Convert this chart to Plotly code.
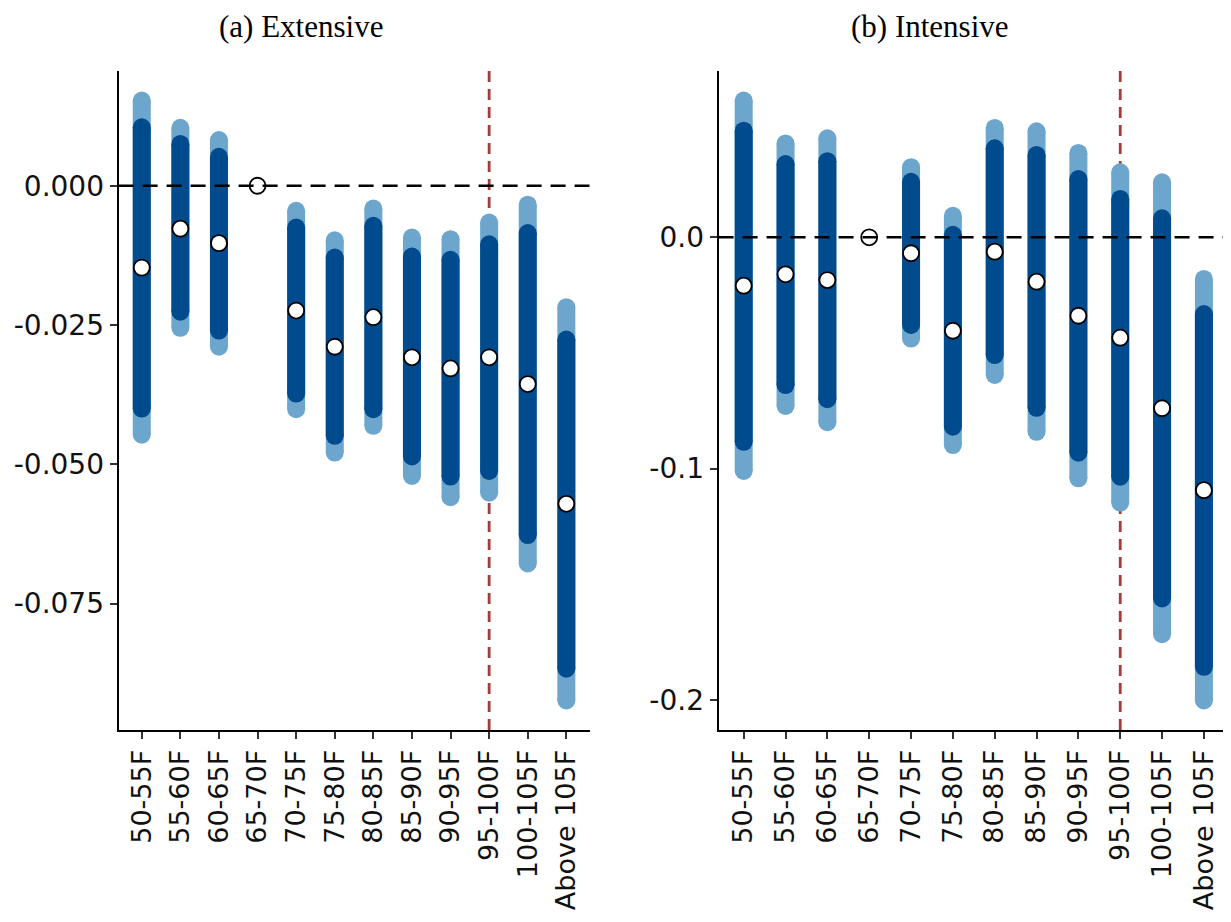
import plotly.graph_objects as go

categories = ["50-55F", "55-60F", "60-65F", "65-70F", "70-75F", "75-80F",
              "80-85F", "85-90F", "90-95F", "95-100F", "100-105F", "Above 105F"]

# (a) Extensive
ext_est = [-0.0147, -0.0077, -0.0103, 0.0, -0.0224, -0.0289, -0.0236, -0.0308, -0.0328, -0.0308, -0.0356, -0.0571]
ext_lo95 = [-0.0447, -0.0255, -0.0289, None, -0.0401, -0.0479, -0.0431, -0.0521, -0.0559, -0.0551, -0.0678, -0.0924]
ext_hi95 = [0.0153, 0.0104, 0.0082, None, -0.0045, -0.0098, -0.0041, -0.0093, -0.0096, -0.0066, -0.0034, -0.0218]
ext_lo90 = [-0.0400, -0.0226, -0.0260, None, -0.0373, -0.0449, -0.0401, -0.0486, -0.0522, -0.0512, -0.0627, -0.0867]
ext_hi90 = [0.0105, 0.0075, 0.0052, None, -0.0075, -0.0129, -0.0072, -0.0127, -0.0133, -0.0105, -0.0085, -0.0276]

# (b) Intensive
int_est = [-0.0209, -0.0160, -0.0185, 0.0, -0.0069, -0.0404, -0.0062, -0.0192, -0.0339, -0.0434, -0.0739, -0.1093]
int_lo95 = [-0.1010, -0.0729, -0.0799, None, -0.0438, -0.0898, -0.0595, -0.0841, -0.1042, -0.1147, -0.1716, -0.2002]
int_hi95 = [0.0591, 0.0406, 0.0428, None, 0.0303, 0.0093, 0.0473, 0.0458, 0.0365, 0.0281, 0.0238, -0.0180]
int_lo90 = [-0.0884, -0.0639, -0.0700, None, -0.0379, -0.0819, -0.0509, -0.0737, -0.0931, -0.1035, -0.1561, -0.1857]
int_hi90 = [0.0461, 0.0317, 0.0329, None, 0.0240, 0.0011, 0.0385, 0.0356, 0.0252, 0.0166, 0.0082, -0.0332]

ext_ticks = [0.0, -0.025, -0.05, -0.075]
ext_ticktext = ["0.000", "-0.025", "-0.050", "-0.075"]
int_ticks = [0.0, -0.1, -0.2]
int_ticktext = ["0.0", "-0.1", "-0.2"]

threshold_cat = "95-100F"
panel_titles = ["(a) Extensive", "(b) Intensive"]

LIGHT = "#6CA6CD"
DARK = "#004B8D"
RED = "#A33B3B"
BAR_W = 18

fig = go.Figure()


def seg(lo, hi):
    xs, ys = [], []
    for c, a, b in zip(categories, lo, hi):
        if a is None or b is None:
            continue
        xs += [c, c, None]
        ys += [a, b, None]
    return xs, ys


panels = [
    ("x", "y", ext_est, ext_lo95, ext_hi95, ext_lo90, ext_hi90),
    ("x2", "y2", int_est, int_lo95, int_hi95, int_lo90, int_hi90),
]

for xa, ya, est, lo95, hi95, lo90, hi90 in panels:
    for lo, hi, col in [(lo95, hi95, LIGHT), (lo90, hi90, DARK)]:
        xs, ys = seg(lo, hi)
        fig.add_trace(go.Scatter(
            x=xs, y=ys, xaxis=xa, yaxis=ya, mode="lines+markers",
            line=dict(color=col, width=BAR_W),
            marker=dict(color=col, size=BAR_W, line=dict(width=0)),
            hoverinfo="skip", showlegend=False))
    fig.add_trace(go.Scatter(
        x=categories, y=est, xaxis=xa, yaxis=ya, mode="markers",
        marker=dict(color="white", size=16, line=dict(color="black", width=1.8)),
        showlegend=False))

thr = categories.index(threshold_cat)
for xa, ya in [("x", "y"), ("x2", "y2")]:
    fig.add_shape(type="line", xref=xa, yref=ya + " domain", x0=thr, x1=thr, y0=0, y1=1,
                  line=dict(color=RED, width=2.8, dash="11px,7px"), layer="below")
    fig.add_shape(type="line", xref=xa + " domain", yref=ya, x0=0, x1=1, y0=0, y1=0,
                  line=dict(color="black", width=2.5, dash="15px,9px"), layer="above")

# page body adds an 8px offset; figure coordinates are screen coordinates minus 8
OFF = 8
W, H = 1231 - OFF, 922 - OFF
TOP, BOT = 71 - OFF, 730 - OFF
ydom = [(H - BOT) / H, (H - TOP) / H]

axis_common = dict(showline=True, linecolor="black", linewidth=2, ticks="outside",
                   ticklen=7, tickwidth=2, tickcolor="#333333", showgrid=False,
                   zeroline=False)
xfont = dict(family="DejaVu Sans", size=27, color="#111111")
yfont = dict(family="DejaVu Sans", size=28, color="#111111")

fig.update_layout(
    width=W, height=H, autosize=False,
    margin=dict(l=0, r=0, t=0, b=0),
    paper_bgcolor="white", plot_bgcolor="white",
    xaxis=dict(domain=[(118.6 - OFF) / W, (589.5 - OFF) / W], type="category",
               categoryorder="array", categoryarray=categories, range=[-0.6, 11.6],
               tickangle=-90, anchor="y", tickfont=xfont, **axis_common),
    yaxis=dict(domain=ydom, range=[-0.0977, 0.0206], tickvals=ext_ticks,
               ticktext=ext_ticktext, anchor="x", tickfont=yfont, **axis_common),
    xaxis2=dict(domain=[(718.6 - OFF) / W, (1229 - OFF) / W], type="category",
                categoryorder="array", categoryarray=categories, range=[-0.6, 11.6],
                tickangle=-90, anchor="y2", tickfont=xfont, **axis_common),
    yaxis2=dict(domain=ydom, range=[-0.2130, 0.0719], tickvals=int_ticks,
                ticktext=int_ticktext, anchor="x2", tickfont=yfont, **axis_common),
)

for txt, xc in zip(panel_titles, [301 - OFF, 930 - OFF]):
    fig.add_annotation(text=txt, x=xc / W, y=1, xref="paper", yref="paper",
                       showarrow=False, xanchor="center", yanchor="top", borderpad=0,
                       font=dict(family="Liberation Serif", size=31, color="black"))

fig.write_html("out.html")
